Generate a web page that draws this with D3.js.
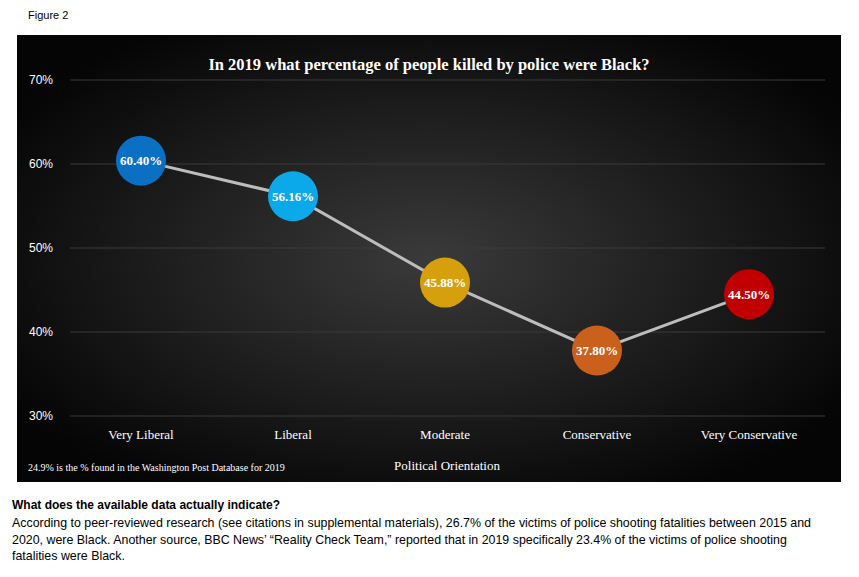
<!DOCTYPE html><html><head><meta charset="utf-8"><script src="https://cdn.jsdelivr.net/npm/d3@7"></script>
<style>body{margin:0;background:#fff}svg{display:block}</style></head><body><svg id="c" width="859" height="577"></svg><script>
const categories=["Very Liberal","Liberal","Moderate","Conservative","Very Conservative"];
const values=[60.40,56.16,45.88,37.80,44.50];
const colors=["#0b6fc3","#0ba9ea","#d6a00c","#c9601b","#c00000"];
const yTicks=[30,40,50,60,70];
const svg=d3.select("#c");
const defs=svg.append("defs");
const g=defs.append("radialGradient").attr("id","bg").attr("cx","50%").attr("cy","50%").attr("r","60%");
g.append("stop").attr("offset","0%").attr("stop-color","#3a3a3a");
g.append("stop").attr("offset","100%").attr("stop-color","#050505");
svg.append("text").attr("x",28).attr("y",19).attr("font-family","Liberation Sans, Arial").attr("font-size",11).text("Figure 2");
svg.append("rect").attr("x",17).attr("y",35).attr("width",824).attr("height",447).attr("fill","url(#bg)");
const x=d3.scalePoint().domain(categories).range([141,749]);
const y=d3.scaleLinear().domain([30,70]).range([416,80]);
const serif="Liberation Serif, 'DejaVu Serif', serif";
svg.append("g").selectAll("line").data(yTicks).join("line").attr("x1",70).attr("x2",825).attr("y1",d=>y(d)).attr("y2",d=>y(d)).attr("stroke","#3a3a3a").attr("stroke-width",1);
svg.append("g").selectAll("text").data(yTicks).join("text").attr("x",53).attr("y",d=>y(d)+4).attr("text-anchor","end").attr("fill","#fff").attr("font-family","Liberation Sans, Arial").attr("font-size",12).text(d=>d+"%");
svg.append("text").attr("x",429).attr("y",70).attr("text-anchor","middle").attr("fill","#fff").attr("font-family",serif).attr("font-weight","bold").attr("font-size",16.5).text("In 2019 what percentage of people killed by police were Black?");
svg.append("g").selectAll("text").data(categories).join("text").attr("x",d=>x(d)).attr("y",439).attr("text-anchor","middle").attr("fill","#fff").attr("font-family",serif).attr("font-size",13).text(d=>d);
const line=d3.line().x((d,i)=>x(categories[i])).y(d=>y(d));
svg.append("path").datum(values).attr("d",line).attr("fill","none").attr("stroke","#bdbdbd").attr("stroke-width",3);
svg.append("g").selectAll("circle").data(values).join("circle").attr("cx",(d,i)=>x(categories[i])).attr("cy",d=>y(d)).attr("r",25).attr("fill",(d,i)=>colors[i]);
svg.append("g").selectAll("text").data(values).join("text").attr("x",(d,i)=>x(categories[i])).attr("y",d=>y(d)+4.5).attr("text-anchor","middle").attr("fill","#fff").attr("font-family",serif).attr("font-weight","bold").attr("font-size",13).text(d=>d.toFixed(2)+"%");
svg.append("text").attr("x",28).attr("y",471).attr("fill","#fff").attr("font-family",serif).attr("font-size",10).text("24.9% is the % found in the Washington Post Database for 2019");
svg.append("text").attr("x",447).attr("y",470).attr("text-anchor","middle").attr("fill","#fff").attr("font-family",serif).attr("font-size",13).text("Political Orientation");
const sans="Liberation Sans, Arial";
svg.append("text").attr("x",12).attr("y",509).attr("font-family",sans).attr("font-weight","bold").attr("font-size",12).text("What does the available data actually indicate?");
const lines=["According to peer-reviewed research (see citations in supplemental materials), 26.7% of the victims of police shooting fatalities between 2015 and","2020, were Black. Another source, BBC News’ “Reality Check Team,” reported that in 2019 specifically 23.4% of the victims of police shooting","fatalities were Black."];
svg.append("g").selectAll("text").data(lines).join("text").attr("x",12).attr("y",(d,i)=>527+i*16.5).attr("font-family",sans).attr("font-size",12.4).text(d=>d);
</script></body></html>
